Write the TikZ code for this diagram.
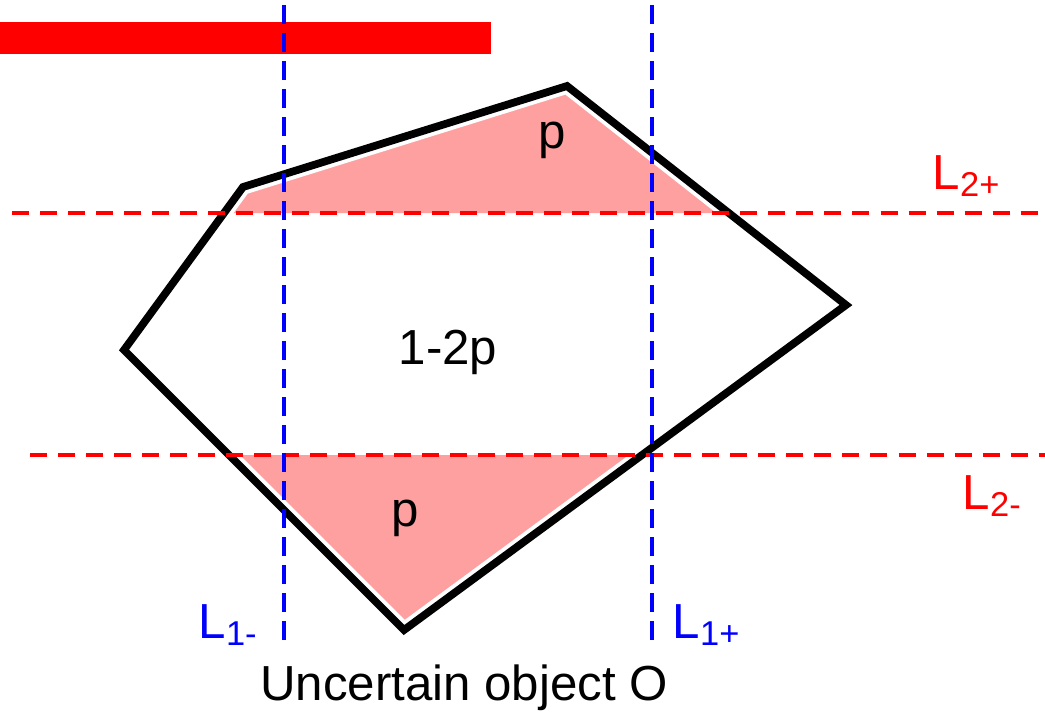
\documentclass[tikz,border=0pt]{standalone}
\usepackage{fontspec}
\setmainfont{Liberation Sans}
\usepackage{tikz}
\usetikzlibrary{calc}

\definecolor{pinkfill}{RGB}{255,160,160}
\tikzset{
  txt/.style={font=\fontsize{14}{17}\selectfont, inner sep=0pt},
  hcut/.style={red, line width=1.1pt, dash pattern=on 0.17cm off 0.11cm},
  vcut/.style={blue, line width=1.1pt, dash pattern=on 0.19cm off 0.09cm}
}

\begin{document}
\begin{tikzpicture}[x=0.01cm, y=-0.01cm]
  \useasboundingbox (0,0) rectangle (1045,711);

  % Corners of the object
  \coordinate (A) at (243,187);
  \coordinate (B) at (567,86);
  \coordinate (C) at (846,305);
  \coordinate (D) at (404,630);
  \coordinate (E) at (124,350);

  % Red bar
  \fill[red] (0,22) rectangle (491,54);

  % Probability regions
  \fill[pinkfill] (224,213) -- (A) -- (B) -- (729,213) -- cycle;
  \fill[pinkfill] (229,455) -- (642,455) -- (D) -- cycle;

  % Object outline (white gap, then black)
  \draw[white, line width=4.4pt, line join=miter] (A) -- (B) -- (C) -- (D) -- (E) -- cycle;
  \draw[black, line width=2.2pt, line join=miter] (A) -- (B) -- (C) -- (D) -- (E) -- cycle;

  % Cut lines
  \draw[hcut] (12,213) -- (1045,213);
  \draw[hcut] (30,455) -- (1045,455);
  \draw[vcut] (284,5) -- (284,640);
  \draw[vcut] (652,5) -- (652,640);

  % Labels
  \node[txt] (ptop) at (552,140) {p};
  \node[txt] (pbot) at (405,518) {p};
  \node[txt] (pmid) at (448,352) {1-2p};
  \node[txt, red, anchor=west] (l2p) at (932,176) {L\textsubscript{2+}};
  \node[txt, red, anchor=west] (l2m) at (962,496) {L\textsubscript{2-}};
  \node[txt, blue, anchor=west] (l1m) at (198,625) {L\textsubscript{1-}};
  \node[txt, blue, anchor=west] (l1p) at (672,625) {L\textsubscript{1+}};
  \node[txt] (obj) at (464,688) {Uncertain object O};
\end{tikzpicture}
\end{document}
